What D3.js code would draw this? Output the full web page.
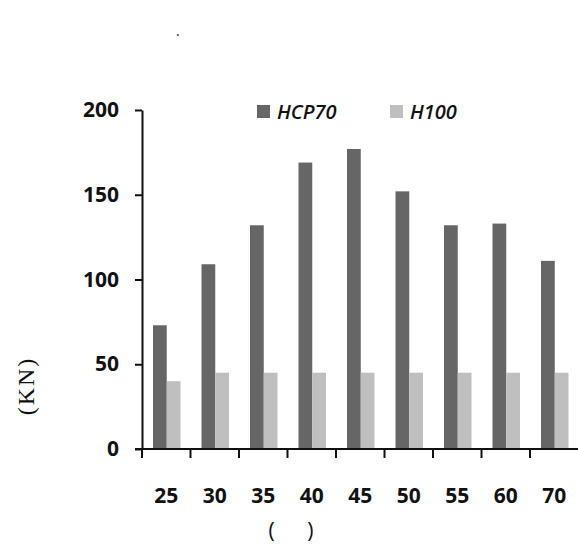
<!DOCTYPE html>
<html>
<head>
<meta charset="utf-8">
<script src="https://cdn.jsdelivr.net/npm/d3@7"></script>
<style>
  html, body { margin: 0; padding: 0; background: #fff; }
  svg { display: block; }
</style>
</head>
<body>
<svg id="chart" width="578" height="550"></svg>
<script>
const categories = ["25", "30", "35", "40", "45", "50", "55", "60", "70"];
const seriesNames = ["HCP70", "H100"];
const hcp70 = [73, 109, 132, 169, 177, 152, 132, 133, 111];
const h100 = [40, 45, 45, 45, 45, 45, 45, 45, 45];
const yTicks = [0, 50, 100, 150, 200];
const colors = ["#666666", "#bfbfbf"];

(function () {
const svg = d3.select("#chart");
const mLeft = 142, mRight = 578.5, mTop = 110, mBottom = 449;

const x = d3.scaleBand().domain(categories).range([mLeft, mRight]).padding(0);
const groupW = 27.5;
const x1 = d3.scaleBand().domain(seriesNames).range([0, groupW]).padding(0);
const y = d3.scaleLinear().domain([0, 200]).range([mBottom, mTop]);

const data = categories.map((c, i) => ({ cat: c, values: [hcp70[i], h100[i]] }));

// bars
const groups = svg.append("g").selectAll("g").data(data).join("g")
  .attr("transform", d => `translate(${x(d.cat) + (x.bandwidth() - groupW) / 2 + 0.5},0)`);
groups.selectAll("rect").data(d => d.values.map((v, j) => ({ s: seriesNames[j], v, j })))
  .join("rect")
  .attr("x", d => x1(d.s))
  .attr("width", x1.bandwidth())
  .attr("y", d => y(d.v))
  .attr("height", d => y(0) - y(d.v))
  .attr("fill", d => colors[d.j]);

const font = "'Open Sans', sans-serif";

// y axis
const yAxis = svg.append("g").attr("transform", `translate(${mLeft},0)`)
  .call(d3.axisLeft(y).tickValues(yTicks).tickSize(7).tickPadding(16).tickSizeOuter(0));
yAxis.select(".domain").attr("stroke", "#111").attr("stroke-width", 2);
yAxis.selectAll(".tick line").attr("stroke", "#111").attr("stroke-width", 2);
yAxis.selectAll(".tick text").attr("font-family", font).attr("font-weight", 700)
  .attr("font-size", 21).attr("fill", "#111");

// x axis line
svg.append("line").attr("x1", mLeft - 7).attr("x2", 578).attr("y1", mBottom).attr("y2", mBottom)
  .attr("stroke", "#111").attr("stroke-width", 2);
// boundary ticks
svg.append("g").selectAll("line").data(categories).join("line")
  .attr("x1", d => x(d)).attr("x2", d => x(d))
  .attr("y1", mBottom).attr("y2", mBottom + 9)
  .attr("stroke", "#111").attr("stroke-width", 2);
// x labels
const xAxis = svg.append("g").attr("transform", `translate(0,${mBottom})`)
  .call(d3.axisBottom(x).tickSize(0).tickPadding(54));
xAxis.select(".domain").remove();
xAxis.selectAll(".tick text").attr("font-family", font).attr("font-weight", 700)
  .attr("font-size", 21).attr("fill", "#111").attr("dy", "0");

// legend
const legend = svg.append("g");
const legX = [257, 390];
seriesNames.forEach((s, i) => {
  legend.append("rect").attr("x", legX[i]).attr("y", 105).attr("width", 13).attr("height", 13)
    .attr("fill", colors[i]);
  legend.append("text").attr("x", legX[i] + 20).attr("y", 119)
    .attr("font-family", font).attr("font-weight", 600).attr("font-style", "italic")
    .attr("font-size", 20).attr("fill", "#111").text(s);
});

// y axis title
svg.append("text")
  .attr("transform", "translate(34,386) rotate(-90)")
  .attr("text-anchor", "middle")
  .attr("font-family", "'Liberation Serif', 'Times New Roman', serif")
  .attr("font-size", 24).attr("letter-spacing", 2).attr("fill", "#111")
  .text("(KN)");

// x axis title
svg.append("text")
  .attr("x", 291).attr("y", 538)
  .attr("text-anchor", "middle")
  .attr("font-family", font).attr("font-size", 21).attr("fill", "#111")
  .style("white-space", "pre")
  .text("(      )");

// stray dot
svg.append("text").attr("x", 176).attr("y", 36)
  .attr("font-family", font).attr("font-size", 14).attr("fill", "#111").text(".");
})();
</script>
</body>
</html>
